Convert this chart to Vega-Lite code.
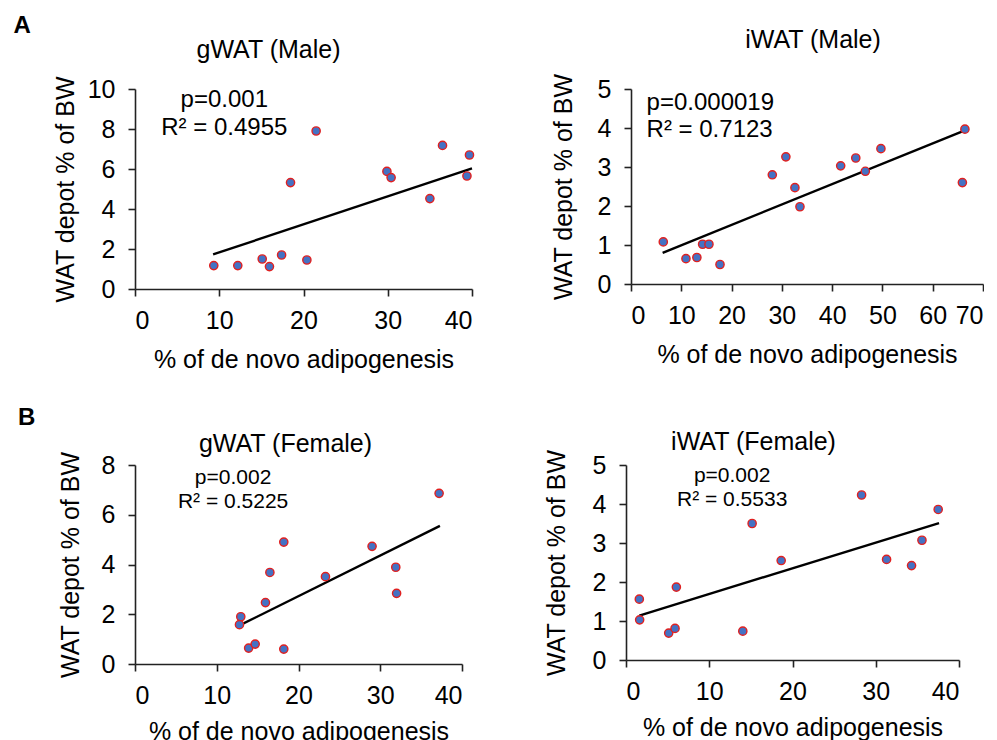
{
  "$schema": "https://vega.github.io/schema/vega-lite/v6.json",
  "padding": {"left": 13, "top": 14, "right": 0, "bottom": 0},
  "autosize": {"type": "pad"},
  "background": "white",
  "config": {
    "view": {"stroke": null},
    "font": "Liberation Sans",
    "axis": {
      "grid": false,
      "domainColor": "#222222",
      "domainWidth": 1.6,
      "tickColor": "#222222",
      "tickWidth": 1.6,
      "tickSize": 7,
      "labelFont": "Liberation Sans",
      "labelFontSize": 25,
      "labelColor": "black",
      "labelOverlap": false,
      "labelPadding": 12,
      "titleFont": "Liberation Sans",
      "titleFontSize": 25,
      "titleFontWeight": "normal",
      "titleColor": "black"
    },
    "axisQuantitative": {"labelOverlap": false},
    "axisY": {"minExtent": 45, "maxExtent": 45, "labelPadding": 13, "labelOverlap": false},
    "axisX": {"titlePadding": 14},
    "title": {"font": "Liberation Sans", "fontSize": 25, "fontWeight": "normal", "color": "black", "anchor": "middle", "frame": "group"}
  },
  "datasets": {
    "a1": [
      {"x": 9.35, "y": 1.17}, {"x": 12.2, "y": 1.17}, {"x": 15.1, "y": 1.5}, {"x": 15.96, "y": 1.12},
      {"x": 17.4, "y": 1.7}, {"x": 18.46, "y": 5.32}, {"x": 20.4, "y": 1.45}, {"x": 21.5, "y": 7.9},
      {"x": 29.9, "y": 5.88}, {"x": 30.4, "y": 5.57}, {"x": 35.0, "y": 4.52}, {"x": 36.5, "y": 7.18},
      {"x": 39.4, "y": 5.65}, {"x": 39.7, "y": 6.7}
    ],
    "a1line": [{"x": 9.27, "y": 1.73}, {"x": 40.0, "y": 6.03}],
    "a1txt": [{"x": 10.6, "y": 9.45, "t": "p=0.001"}, {"x": 10.6, "y": 8.03, "t": "R² = 0.4955"}],
    "a2": [
      {"x": 6.42, "y": 1.08}, {"x": 10.93, "y": 0.65}, {"x": 13.1, "y": 0.68}, {"x": 14.24, "y": 1.02},
      {"x": 15.5, "y": 1.02}, {"x": 17.7, "y": 0.5}, {"x": 28.1, "y": 2.8}, {"x": 30.8, "y": 3.26},
      {"x": 32.6, "y": 2.47}, {"x": 33.6, "y": 1.98}, {"x": 41.7, "y": 3.03}, {"x": 44.7, "y": 3.23},
      {"x": 46.6, "y": 2.89}, {"x": 49.7, "y": 3.47}, {"x": 65.9, "y": 2.6}, {"x": 66.4, "y": 3.97}
    ],
    "a2line": [{"x": 6.29, "y": 0.8}, {"x": 66.4, "y": 3.94}],
    "a2txt": [{"x": 3.1, "y": 4.63, "t": "p=0.000019"}, {"x": 3.1, "y": 3.95, "t": "R² = 0.7123"}],
    "b1": [
      {"x": 12.94, "y": 1.9}, {"x": 12.78, "y": 1.58}, {"x": 13.9, "y": 0.64}, {"x": 14.7, "y": 0.8},
      {"x": 15.96, "y": 2.47}, {"x": 16.5, "y": 3.68}, {"x": 18.2, "y": 4.9}, {"x": 18.2, "y": 0.6},
      {"x": 23.3, "y": 3.51}, {"x": 29.0, "y": 4.73}, {"x": 31.9, "y": 3.89}, {"x": 32.0, "y": 2.84},
      {"x": 37.2, "y": 6.86}
    ],
    "b1line": [{"x": 12.78, "y": 1.55}, {"x": 37.3, "y": 5.55}],
    "b1txt": [{"x": 12.0, "y": 7.48, "t": "p=0.002"}, {"x": 12.0, "y": 6.5, "t": "R² = 0.5225"}],
    "b2": [
      {"x": 1.6, "y": 1.56}, {"x": 1.64, "y": 1.03}, {"x": 5.13, "y": 0.69}, {"x": 5.89, "y": 0.81},
      {"x": 6.05, "y": 1.87}, {"x": 14.03, "y": 0.74}, {"x": 15.15, "y": 3.5}, {"x": 18.64, "y": 2.55},
      {"x": 28.3, "y": 4.23}, {"x": 31.3, "y": 2.58}, {"x": 34.3, "y": 2.42}, {"x": 35.55, "y": 3.07},
      {"x": 37.5, "y": 3.86}
    ],
    "b2line": [{"x": 1.6, "y": 1.14}, {"x": 37.6, "y": 3.51}],
    "b2txt": [{"x": 12.75, "y": 4.73, "t": "p=0.002"}, {"x": 12.75, "y": 4.09, "t": "R² = 0.5533"}]
  },
  "vconcat": [
    {
      "title": {"text": "A", "anchor": "start", "frame": "bounds", "fontWeight": "bold", "fontSize": 24, "dx": -40, "offset": -10},
      "spacing": 74,
      "hconcat": [
        {
          "width": 337, "height": 200,
          "title": {"text": "gWAT (Male)", "dx": -35, "offset": 13},
          "encoding": {
            "x": {"field": "x", "type": "quantitative", "scale": {"domain": [0, 40], "nice": false}, "axis": {"values": [0, 10, 20, 30, 40], "labelOverlap": false, "title": "% of de novo adipogenesis"}},
            "y": {"field": "y", "type": "quantitative", "scale": {"domain": [0, 10], "nice": false}, "axis": {"values": [0, 2, 4, 6, 8, 10], "labelOverlap": false, "title": "WAT depot % of BW", "titlePadding": 11.5}}
          },
          "layer": [
            {"data": {"name": "a1line"}, "mark": {"type": "line", "color": "black", "strokeWidth": 2.4}},
            {"data": {"name": "a1"}, "mark": {"type": "circle", "size": 68, "fill": "#4472C4", "stroke": "#E02020", "strokeWidth": 1.4, "opacity": 1}},
            {"data": {"name": "a1txt"}, "mark": {"type": "text", "fontSize": 24, "align": "center", "baseline": "middle", "color": "black"},
             "encoding": {"text": {"field": "t"}}}
          ]
        },
        {
          "width": 352, "height": 195,
          "title": {"text": "iWAT (Male)", "dx": 6, "offset": 20},
          "encoding": {
            "x": {"field": "x", "type": "quantitative", "scale": {"domain": [0, 70], "nice": false}, "axis": {"values": [0, 10, 20, 30, 40, 50, 60, 70], "labelOverlap": false, "title": "% of de novo adipogenesis"}},
            "y": {"field": "y", "type": "quantitative", "scale": {"domain": [0, 5], "nice": false}, "axis": {"values": [0, 1, 2, 3, 4, 5], "labelOverlap": false, "title": "WAT depot % of BW", "titlePadding": 9.5}}
          },
          "layer": [
            {"data": {"name": "a2line"}, "mark": {"type": "line", "color": "black", "strokeWidth": 2.4}},
            {"data": {"name": "a2"}, "mark": {"type": "circle", "size": 68, "fill": "#4472C4", "stroke": "#E02020", "strokeWidth": 1.4, "opacity": 1}},
            {"data": {"name": "a2txt"}, "mark": {"type": "text", "fontSize": 24, "align": "left", "baseline": "middle", "color": "black"},
             "encoding": {"text": {"field": "t"}}}
          ]
        }
      ]
    },
    {
      "title": {"text": "B", "anchor": "start", "frame": "bounds", "fontWeight": "bold", "fontSize": 24, "dx": -40, "offset": 0},
      "spacing": 81,
      "hconcat": [
        {
          "width": 327, "height": 199,
          "title": {"text": "gWAT (Female)", "dx": -13, "offset": -6},
          "encoding": {
            "x": {"field": "x", "type": "quantitative", "scale": {"domain": [0, 40], "nice": false}, "axis": {"values": [0, 10, 20, 30, 40], "labelOverlap": false, "title": "% of de novo adipogenesis", "titlePadding": 11}},
            "y": {"field": "y", "type": "quantitative", "scale": {"domain": [0, 8], "nice": false}, "axis": {"values": [0, 2, 4, 6, 8], "labelOverlap": false, "title": "WAT depot % of BW", "titlePadding": 7}}
          },
          "layer": [
            {"data": {"name": "b1line"}, "mark": {"type": "line", "color": "black", "strokeWidth": 2.4}},
            {"data": {"name": "b1"}, "mark": {"type": "circle", "size": 68, "fill": "#4472C4", "stroke": "#E02020", "strokeWidth": 1.4, "opacity": 1}},
            {"data": {"name": "b1txt"}, "mark": {"type": "text", "fontSize": 21, "align": "center", "baseline": "middle", "color": "black"},
             "encoding": {"text": {"field": "t"}}}
          ]
        },
        {
          "width": 333, "height": 195,
          "title": {"text": "iWAT (Female)", "dx": -39, "offset": -6},
          "encoding": {
            "x": {"field": "x", "type": "quantitative", "scale": {"domain": [0, 40], "nice": false}, "axis": {"values": [0, 10, 20, 30, 40], "labelOverlap": false, "title": "% of de novo adipogenesis", "titlePadding": 11}},
            "y": {"field": "y", "type": "quantitative", "scale": {"domain": [0, 5], "nice": false}, "axis": {"values": [0, 1, 2, 3, 4, 5], "labelOverlap": false, "title": "WAT depot % of BW", "titlePadding": 11.5}}
          },
          "layer": [
            {"data": {"name": "b2line"}, "mark": {"type": "line", "color": "black", "strokeWidth": 2.4}},
            {"data": {"name": "b2"}, "mark": {"type": "circle", "size": 68, "fill": "#4472C4", "stroke": "#E02020", "strokeWidth": 1.4, "opacity": 1}},
            {"data": {"name": "b2txt"}, "mark": {"type": "text", "fontSize": 21, "align": "center", "baseline": "middle", "color": "black"},
             "encoding": {"text": {"field": "t"}}}
          ]
        }
      ]
    }
  ],
  "spacing": 34
}
